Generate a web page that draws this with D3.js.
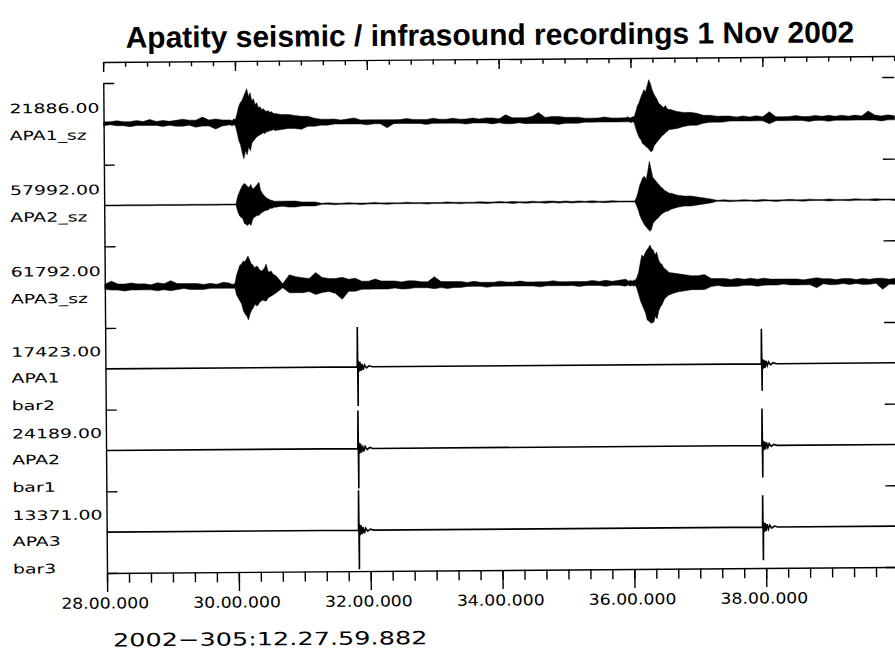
<!DOCTYPE html>
<html><head><meta charset="utf-8">
<script src="https://cdn.jsdelivr.net/npm/d3@7"></script>
<style>
html,body{margin:0;padding:0;background:#fff;}
svg{display:block;}
</style></head><body>
<svg id="chart" width="895" height="650"></svg>
<script>
// ---------------- DATA ----------------
const titleText = "Apatity seismic / infrasound recordings 1 Nov 2002";
const startTimeLabel = "2002\u2212305:12.27.59.882";
const xMajorTicks = [28, 30, 32, 34, 36, 38];            // minutes past 12:00
const xTickLabels = ["28.00.000","30.00.000","32.00.000","34.00.000","36.00.000","38.00.000"];
const channelPeaks = ["21886.00","57992.00","61792.00","17423.00","24189.00","13371.00"];
const channelNames = [["APA1_sz"],["APA2_sz"],["APA3_sz"],["APA1","bar2"],["APA2","bar1"],["APA3","bar3"]];

// Seismic envelopes: amplitude in 1/40ths of the channel's peak value (hi = upward, lo = downward)
const seisTimes = [28,28.1,28.2,28.3,28.4,28.5,28.6,28.7,28.8,28.9,29,29.1,29.2,29.3,29.4,29.5,29.6,29.7,29.8,29.9,
29.925,29.95,29.975,30,30.025,30.05,30.075,30.1,30.125,30.15,30.175,30.2,30.225,30.25,30.275,30.3,30.325,30.35,30.375,30.4,30.425,30.45,30.475,30.5,30.525,30.55,30.575,
30.6,30.7,30.8,30.9,31,31.1,31.2,31.3,31.4,31.5,31.6,31.7,31.8,31.9,32,32.1,32.2,32.3,32.4,32.5,32.6,32.7,32.8,32.9,33,33.1,33.2,33.3,33.4,33.5,33.6,33.7,33.8,33.9,34,34.1,34.2,34.3,34.4,34.5,34.6,34.7,34.8,34.9,35,35.1,35.2,35.3,35.4,35.5,35.6,35.7,35.8,35.9,
35.925,35.95,35.975,36,36.025,36.05,36.075,36.1,36.125,36.15,36.175,36.2,36.225,36.25,36.275,36.3,36.325,36.35,36.375,36.4,36.425,36.45,36.475,36.5,36.525,36.55,36.575,
36.6,36.7,36.8,36.9,37,37.1,37.2,37.3,37.4,37.5,37.6,37.7,37.8,37.9,38,38.1,38.2,38.3,38.4,38.5,38.6,38.7,38.8,38.9,39,39.1,39.2,39.3,39.4,39.5,39.6,39.7,39.8,39.9,40];

const apa1szHi = [2,2,3,2,2,3,2,4,2,3,2,3,4,3,3,6,3,4,3,3,
3,2,4,3,9,16,20,22,26,30,34,26,30,22,24,18,20,15,16,13,14,12,11,12,10,11,9,
9,8,8,7,6,6,4,3,3,3,2,3,4,2,2,2,2,2,2,2,3,2,2,2,3,2,2,3,2,2,3,2,3,3,2,6,3,3,3,4,8,3,4,4,3,3,3,2,2,2,3,2,2,2,
2,3,2,2,3,3,8,14,17,22,26,30,28,34,40,36,30,26,23,20,16,15,13,12,14,11,10,
10,8,7,7,6,4,4,3,3,3,2,3,2,3,2,7,2,2,2,3,2,2,3,2,3,2,3,2,3,2,7,3,2,3,2];
const apa1szLo = [2,1,2,2,3,2,2,2,2,3,2,3,3,2,4,3,3,6,3,2,
2,3,2,3,10,18,22,30,36,28,32,24,28,20,18,16,14,13,12,11,10,11,9,9,8,8,7,
8,7,6,6,7,4,4,3,3,2,2,2,2,2,3,2,2,6,2,2,2,2,2,3,2,2,2,2,2,3,2,2,2,3,2,3,3,2,3,3,3,3,3,4,3,3,3,2,2,2,2,2,2,2,
2,2,2,3,2,3,9,14,18,20,24,25,27,28,30,32,31,26,24,22,20,18,16,15,13,12,10,
10,9,7,6,6,4,3,3,3,2,2,2,2,2,2,5,2,2,2,2,2,3,2,2,3,2,2,2,2,2,2,2,3,2,2];

const apa2szHi = [0.5,0.5,0.5,0.5,0.5,0.5,0.5,0.5,0.5,0.5,0.5,0.5,0.5,0.5,0.5,0.5,0.5,0.5,0.5,0.5,
0.5,0.5,0.5,0.5,8,12,16,19,21,20,18,17,20,16,16,18,20,22,14,11,9,7,6,5,4,4,3,
3,3,3,3,2,2,2,0.5,1,0.5,0.5,1,0.5,0.5,0.5,1,0.5,0.5,0.5,0.5,1,0.5,0.5,0.5,0.5,0.5,1,0.5,0.5,0.5,0.5,1,0.5,0.5,1,0.5,1,0.5,0.5,1,0.5,1,1,0.5,1,0.5,1,0.5,1,0.5,0.5,1,0.5,0.5,
0.5,0.5,0.5,0.5,0.5,0.5,4,9,16,20,24,25,22,30,40,32,24,22,20,18,16,14,13,11,10,9,8,
8,6,5,5,4,3,2,0.5,1,0.5,0.5,1,0.5,0.5,1,0.5,0.5,0.5,1,0.5,0.5,1,0.5,0.5,1,0.5,0.5,0.5,1,0.5,0.5,1,0.5,0.5,0.5];
const apa2szLo = [0.5,0.5,0.5,0.5,0.5,0.5,0.5,0.5,0.5,0.5,0.5,0.5,0.5,0.5,0.5,0.5,0.5,0.5,0.5,0.5,
0.5,0.5,0.5,0.5,7,11,13,14,19,20,21,19,21,15,13,12,11,11,9,8,7,6,6,5,4,4,3,
3,2,3,3,2,2,2,0.5,0.5,1,0.5,0.5,0.5,1,0.5,0.5,0.5,1,0.5,0.5,0.5,0.5,0.5,1,0.5,0.5,0.5,0.5,1,0.5,0.5,0.5,1,0.5,0.5,0.5,1,0.5,1,0.5,0.5,1,0.5,1,0.5,1,0.5,0.5,1,0.5,1,0.5,0.5,0.5,
0.5,0.5,0.5,0.5,0.5,0.5,4,8,14,18,21,24,26,28,30,28,22,20,18,17,15,13,12,11,10,10,9,
8,6,5,5,4,3,2,0.5,0.5,1,0.5,0.5,0.5,1,0.5,0.5,1,0.5,0.5,0.5,1,0.5,0.5,0.5,1,0.5,0.5,1,0.5,0.5,0.5,1,0.5,0.5,1];

const apa3szHi = [3,6,3,3,4,3,3,2,4,3,6,3,3,3,3,2,3,2,4,3,
2,2,3,11,16,21,22,25,24,27,30,26,22,21,18,20,19,16,15,16,18,22,15,14,15,12,11,
10,2,11,9,8,7,13,8,7,7,8,6,7,4,4,6,4,4,4,3,4,4,3,3,8,3,3,3,3,2,3,2,2,2,3,2,2,3,2,2,2,2,3,2,2,2,2,2,3,2,3,2,3,4,
3,2,3,2,3,3,6,11,20,28,26,30,33,35,38,34,33,28,31,24,20,19,16,14,13,11,10,
10,9,8,7,7,8,4,4,4,3,4,3,4,3,4,3,3,3,3,3,2,3,4,3,3,2,3,3,2,3,2,3,3,2,3];
const apa3szLo = [2,3,3,4,3,3,3,3,4,3,4,3,2,3,3,3,2,2,2,2,
2,2,2,9,12,15,18,25,28,30,34,28,24,22,18,20,19,16,15,14,15,15,12,11,10,9,8,
7,2,7,7,7,6,9,7,6,8,14,6,6,4,4,4,4,4,3,4,4,3,3,3,4,3,4,3,3,2,2,2,3,2,2,2,2,2,2,2,3,2,2,2,2,2,3,2,2,2,3,2,2,3,
2,2,3,2,3,2,6,12,18,22,26,30,37,38,40,40,39,33,36,28,24,22,18,15,14,12,12,
11,9,8,7,7,7,4,3,4,4,4,3,3,4,3,3,3,2,3,3,3,3,6,2,3,3,2,3,2,3,3,2,8,3,3];

// Infrasound traces: signed amplitude in 1/40ths of the channel's peak value
const infraTimes = [28,31.82,31.825,31.83,31.835,31.845,31.86,31.875,31.89,31.91,31.93,31.96,32.0,32.05,
37.95,37.955,37.96,37.965,37.975,37.99,38.005,38.02,38.04,38.06,38.09,38.13,38.18,40];
const apa1bar2 = [0,0,40,-39,6,-5,5,-4,3,-3,2,-1,1,0, 0,35,-27,5,-5,4,-4,3,-2,2,-1,1,0,0];
const apa2bar1 = [0,0,38,-40,6,-5,5,-4,3,-3,2,-1,1,0, 0,37,-32,5,-5,4,-4,3,-2,2,-1,1,0,0];
const apa3bar3 = [0,0,40,-39,6,-5,5,-4,3,-3,2,-1,1,0, 0,32,-33,5,-5,4,-4,3,-2,2,-1,1,0,0];

const seismic = [[apa1szHi, apa1szLo],[apa2szHi, apa2szLo],[apa3szHi, apa3szLo]];
const infra = [apa1bar2, apa2bar1, apa3bar3];

// ---------------- DRAW ----------------
const W = 895, H = 650;
const svg = d3.select("#chart");
svg.append("rect").attr("width", W).attr("height", H).attr("fill", "#fff");
// the original scan is slightly rotated
const g = svg.append("g").attr("transform", "rotate(-0.437,107,573)");

const x = d3.scaleLinear().domain([28, 40]).range([107, 898]);
const chTop = 83, chBottom = 573, nCh = 6;
const chScale = d3.scaleLinear().domain([0, nCh]).range([chTop, chBottom]);
const center = i => chScale(i + 0.5);
const amp = d3.scaleLinear().domain([-40, 40]).range([40, -40]);

// seismic envelopes
seismic.forEach(([hi, lo], i) => {
  const c = center(i);
  const rows = seisTimes.map((t, j) => ({ t, hi: hi[j], lo: lo[j] }));
  const area = d3.area()
    .x(d => x(d.t))
    .y0(d => c + amp(-d.lo))
    .y1(d => c + amp(d.hi));
  g.append("path").attr("d", area(rows))
    .attr("fill", "#000").attr("stroke", "#000").attr("stroke-width", 0.5)
    .attr("stroke-linejoin", "miter");
});

// infrasound traces
infra.forEach((vals, k) => {
  const c = center(k + 3);
  const line = d3.line().x((t) => x(t)).y((t, j) => c + amp(vals[j]));
  g.append("path").attr("d", line(infraTimes))
    .attr("fill", "none").attr("stroke", "#000").attr("stroke-width", 1.6);
});

// axes
const minorTicks = d3.range(28, 40.001, 1 / 3);
function styleAxis(sel) {
  sel.selectAll("path,line").attr("stroke", "#000").attr("stroke-width", 1.4);
  sel.selectAll("text").remove();
}
// top axis (ticks inward)
g.append("g").attr("transform", "translate(0,62)")
  .call(d3.axisBottom(x).tickValues(minorTicks).tickSize(5).tickSizeOuter(0).tickFormat(""))
  .call(styleAxis);
g.append("g").attr("transform", "translate(0,62)")
  .call(d3.axisBottom(x).tickValues(xMajorTicks).tickSize(10).tickSizeOuter(0).tickFormat(""))
  .call(styleAxis).select(".domain").remove();
// bottom axis (ticks outward)
g.append("g").attr("transform", "translate(0,573)")
  .call(d3.axisBottom(x).tickValues(minorTicks).tickSize(10).tickSizeOuter(0).tickFormat(""))
  .call(styleAxis);
g.append("g").attr("transform", "translate(0,573)")
  .call(d3.axisBottom(x).tickValues(xMajorTicks).tickSize(19).tickSizeOuter(0).tickFormat(""))
  .call(styleAxis).select(".domain").remove();
// left channel axis
g.append("g").attr("transform", "translate(107,0)")
  .call(d3.axisRight(chScale).tickValues(d3.range(0, nCh + 1)).tickSize(11).tickSizeOuter(0).tickFormat(""))
  .call(styleAxis);
// right channel ticks
g.append("g").attr("transform", "translate(898,0)")
  .call(d3.axisLeft(chScale).tickValues(d3.range(0, nCh + 1)).tickSize(12).tickSizeOuter(0).tickFormat(""))
  .call(styleAxis).select(".domain").remove();

// stroke-font style labels (wide glyphs)
function wideText(parent, str, tx, ty, size, sx, anchor) {
  return parent.append("text")
    .attr("transform", `translate(${tx},${ty}) scale(${sx},1)`)
    .attr("font-family", "'DejaVu Sans', sans-serif")
    .attr("font-size", size)
    .attr("text-anchor", anchor || "start")
    .attr("fill", "#000")
    .text(str);
}

// x tick labels
xMajorTicks.forEach((t, i) => {
  wideText(g, xTickLabels[i], x(t) - 2, 608.5, 15, 1.15, "middle");
});

// channel labels
channelPeaks.forEach((pk, i) => {
  const c = center(i);
  const lines = [pk].concat(channelNames[i]);
  const offs = i < 3 ? [-16, 11] : [-17.5, 8.5, 36];
  lines.forEach((s, j) => {
    wideText(g, s, 13, c + offs[j] + 4.7, 13, 1.45, "start");
  });
});

// start-time label
wideText(g, startTimeLabel, 112.5, 646.5, 18, 1.42, "start");

// title
g.append("text")
  .attr("x", 494).attr("y", 48)
  .attr("text-anchor", "middle")
  .attr("font-family", "'Liberation Sans', Arial, sans-serif")
  .attr("font-weight", "bold")
  .attr("font-size", 30)
  .attr("fill", "#000")
  .text(titleText);
</script>
</body></html>
